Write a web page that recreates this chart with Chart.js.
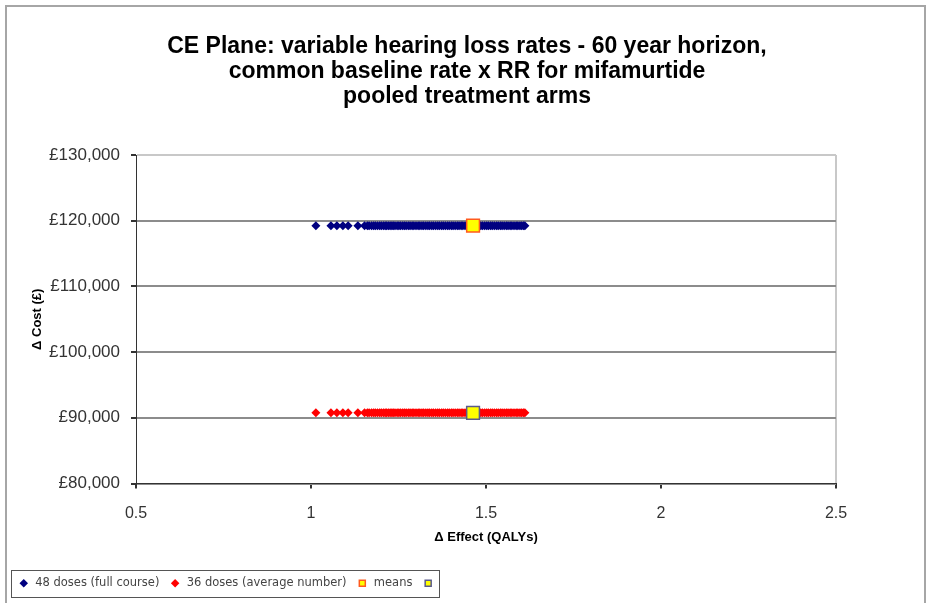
<!DOCTYPE html>
<html lang="en">
<head>
<meta charset="UTF-8">
<title>CE Plane</title>
<script src="https://cdn.jsdelivr.net/npm/chart.js@4/dist/chart.umd.min.js"></script>
<style>
    html, body { margin: 0; padding: 0; background: #fff; }
    #wrap { width: 930px; height: 603px; position: relative; }
</style>
</head>
<body>
<div id="wrap"><canvas id="ce-plane" width="930" height="603"></canvas></div>
<script>
    // incremental QALYs per simulation
    const effects = [1.014, 1.057, 1.074, 1.091, 1.106, 1.134, 1.153, 1.161, 1.166, 1.173,
        1.179, 1.184, 1.19, 1.196, 1.201, 1.207, 1.212, 1.216, 1.221, 1.226, 1.231, 1.235,
        1.24, 1.246, 1.251, 1.256, 1.262, 1.267, 1.272, 1.278, 1.283, 1.289, 1.294, 1.3,
        1.306, 1.311, 1.317, 1.322, 1.328, 1.334, 1.339, 1.345, 1.35, 1.356, 1.362, 1.367,
        1.373, 1.378, 1.384, 1.39, 1.395, 1.401, 1.406, 1.412, 1.418, 1.423, 1.429, 1.434,
        1.44, 1.446, 1.451, 1.457, 1.462, 1.468, 1.474, 1.479, 1.485, 1.49, 1.496, 1.502,
        1.507, 1.513, 1.518, 1.524, 1.53, 1.535, 1.541, 1.546, 1.552, 1.558, 1.563, 1.569,
        1.574, 1.58, 1.586, 1.591, 1.597, 1.602, 1.607, 1.611];
    const armCosts = [119250, 90750];
    const meanEffects = [1.463, 1.463];
    const seriesLabels = ['48 doses (full course)', '36 doses (average number)', 'means', ''];
    const titleLines = ['CE Plane: variable hearing loss rates - 60 year horizon,',
        'common baseline rate x RR for mifamurtide', 'pooled treatment arms'];
    const xTicks = [0.5, 1, 1.5, 2, 2.5];
    const yTicks = [80000, 90000, 100000, 110000, 120000, 130000];

    const plain = '"Liberation Sans", Arial, sans-serif';

    const framePlugin = {
        id: 'frame',
        beforeDraw(chart) {
            const ctx = chart.ctx;
            ctx.save();
            ctx.fillStyle = '#fff';
            ctx.fillRect(0, 0, chart.width, chart.height);
            ctx.strokeStyle = '#a6a6a6';
            ctx.lineWidth = 2;
            ctx.strokeRect(6, 6, chart.width - 11, chart.height + 10);
            ctx.restore();
        },
        afterDraw(chart) {
            // border round the legend, as in the spreadsheet chart
            const boxes = chart.legend.legendHitBoxes;
            if (!boxes || !boxes.length) return;
            const first = boxes[0], last = boxes[boxes.length - 1];
            const ctx = chart.ctx;
            ctx.save();
            ctx.strokeStyle = '#555';
            ctx.lineWidth = 1;
            const left = Math.round(first.left - 7) + 0.5;
            const top = Math.round(first.top - 8) + 0.5;
            ctx.strokeRect(left, top, Math.round(last.left + 17 - left), Math.round(first.height + 15));
            ctx.restore();
        }
    };

    const pts = cost => effects.map(e => ({x: e, y: cost}));

    new Chart('ce-plane', {
        type: 'scatter',
        data: {
            datasets: [
                {label: seriesLabels[0], data: pts(armCosts[0]), pointStyle: 'rectRot', pointRadius: 4.5,
                    backgroundColor: '#000080', borderColor: '#000080', borderWidth: 0, order: 2},
                {label: seriesLabels[1], data: pts(armCosts[1]), pointStyle: 'rectRot', pointRadius: 4.5,
                    backgroundColor: '#ff0000', borderColor: '#ff0000', borderWidth: 0, order: 2},
                {label: seriesLabels[2], data: [{x: meanEffects[0], y: armCosts[0]}], pointStyle: 'rect', pointRadius: 9,
                    backgroundColor: '#ffff00', borderColor: '#ff5a1e', borderWidth: 1.5, order: 1},
                {label: seriesLabels[3], data: [{x: meanEffects[1], y: armCosts[1]}], pointStyle: 'rect', pointRadius: 9,
                    backgroundColor: '#ffff00', borderColor: '#5a5a8c', borderWidth: 1.5, order: 1}
            ]
        },
        options: {
            responsive: false,
            animation: false,
            devicePixelRatio: 1,
            layout: {padding: {left: 8, right: 4, top: 0, bottom: 4}},
            plugins: {
                tooltip: {enabled: false},
                title: {
                    display: true,
                    text: titleLines,
                    color: '#000',
                    font: {family: plain, size: 23, weight: 'bold', lineHeight: 25 / 23},
                    padding: {top: 34, bottom: 46}
                },
                legend: {
                    position: 'bottom',
                    align: 'start',
                    labels: {
                        usePointStyle: true,
                        boxHeight: 6,
                        padding: 10,
                        color: '#444',
                        font: {family: '"DejaVu Sans", sans-serif', size: 11.5},
                        sort: (a, b) => a.datasetIndex - b.datasetIndex
                    }
                }
            },
            scales: {
                x: {
                    type: 'linear',
                    min: 0.5,
                    max: 2.5,
                    afterFit: s => { s.height = 84; },
                    afterBuildTicks: s => { s.ticks = xTicks.map(v => ({value: v})); },
                    border: {color: '#333', width: 1},
                    grid: {
                        drawOnChartArea: true,
                        color: c => c.index === xTicks.length - 1 ? '#c8c8c8' : 'rgba(0,0,0,0)',
                        tickColor: '#333',
                        tickLength: 5,
                        lineWidth: 2
                    },
                    ticks: {color: '#333', padding: 15, font: {family: plain, size: 16}, callback: v => String(v)},
                    title: {
                        display: true,
                        text: 'Δ Effect (QALYs)',
                        color: '#000',
                        font: {family: plain, size: 13, weight: 'bold'},
                        padding: {top: 0, bottom: 22}
                    }
                },
                y: {
                    min: 80000,
                    max: 130000,
                    afterFit: s => { s.width = 128; },
                    afterBuildTicks: s => { s.ticks = yTicks.map(v => ({value: v})); },
                    border: {color: '#333', width: 1},
                    grid: {
                        color: c => c.index === yTicks.length - 1 ? '#c8c8c8' : '#8c8c8c',
                        tickColor: '#333',
                        tickLength: 5,
                        lineWidth: 2
                    },
                    ticks: {
                        color: '#333',
                        padding: 11,
                        font: {family: plain, size: 17},
                        callback: v => '£' + v.toLocaleString('en-GB')
                    },
                    title: {
                        display: true,
                        text: 'Δ Cost (£)',
                        color: '#000',
                        font: {family: plain, size: 13, weight: 'bold'},
                        padding: {top: 22, bottom: 0}
                    }
                },
                // empty right-hand margin so the plot area ends where the original does
                spacer: {
                    type: 'linear',
                    position: 'right',
                    afterFit: s => { s.width = 90; },
                    ticks: {display: false},
                    grid: {display: false},
                    border: {display: false}
                }
            }
        },
        plugins: [framePlugin]
    });
</script>
</body>
</html>
